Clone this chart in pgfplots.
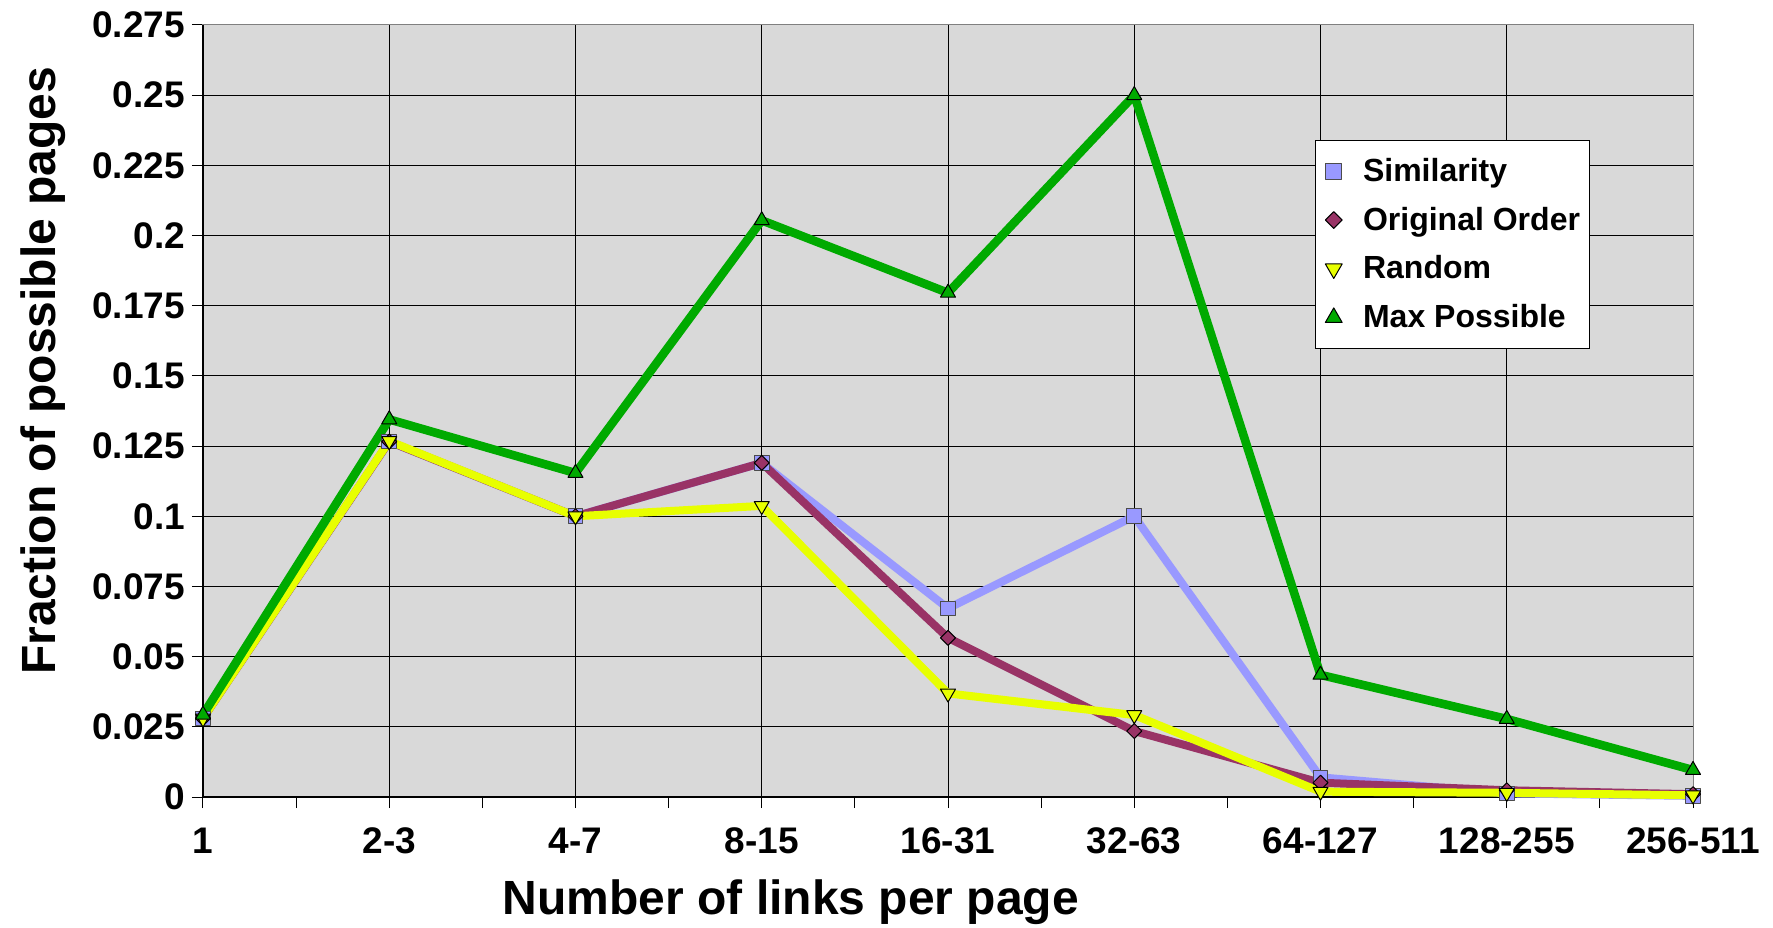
\documentclass[border=0pt]{standalone}
\usepackage{fontspec}
\setmainfont{Liberation Sans}
\usepackage{pgfplots}
\pgfplotsset{compat=1.18}

\definecolor{simcol}{RGB}{153,153,255}
\definecolor{origcol}{RGB}{153,51,102}
\definecolor{randcol}{RGB}{232,255,0}
\definecolor{maxcol}{RGB}{0,170,0}
\definecolor{plotbg}{RGB}{217,217,217}

\begin{document}
\begin{tikzpicture}
\begin{axis}[
  width=745pt, height=386pt, scale only axis,
  xmin=0, xmax=8, ymin=0, ymax=0.275,
  clip=false,
  axis background/.style={fill=plotbg},
  axis line style={draw=gray, line width=0.5pt},
  xtick={0,1,2,3,4,5,6,7,8},
  xticklabels={1,2-3,4-7,8-15,16-31,32-63,64-127,128-255,256-511},
  minor xtick={0.5,1.5,2.5,3.5,4.5,5.5,6.5,7.5},
  ytick={0,0.025,0.05,0.075,0.1,0.125,0.15,0.175,0.2,0.225,0.25,0.275},
  yticklabels={0,0.025,0.05,0.075,0.1,0.125,0.15,0.175,0.2,0.225,0.25,0.275},
  grid=major,
  major grid style={black, line width=0.5pt},
  tick pos=left, tick align=outside,
  major tick length=5.5pt, minor tick length=5.5pt,
  tick style={black, line width=0.5pt},
  ticklabel style={font=\fontsize{18.5}{21}\selectfont\bfseries},
  xticklabel style={yshift=-6.5pt},
  xlabel={Number of links per page},
  xlabel style={at={(axis description cs:0.3946,0)}, anchor=base, yshift=-58.5pt,
    font=\fontsize{24}{28}\selectfont\bfseries},
  ylabel={Fraction of possible pages},
  ylabel style={at={(axis description cs:0,0.552)}, anchor=base, yshift=73.5pt,
    font=\fontsize{24}{28}\selectfont\bfseries},
  legend style={at={(axis description cs:0.746,0.851)}, anchor=north west,
    draw=black, fill=white, line width=0.5pt,
    font=\fontsize{16}{19}\selectfont\bfseries,
    row sep=7.3pt, inner xsep=2.5pt, inner ysep=6.8pt},
  legend cell align=left,
  legend image code/.code={%
    \draw[#1, every mark/.append style={scale=1.12}] plot coordinates {(0pt,0pt)};
    \path (-4.7pt,0pt) (10.5pt,0pt);},
]
% plain black axis lines on the left and bottom
\draw[black, line width=0.6pt] (rel axis cs:0,1) -- (rel axis cs:0,0) -- (rel axis cs:1,0);

\addplot[color=simcol, line width=4pt, line join=round,
  mark=square*, mark size=3.67pt,
  mark options={fill=simcol, draw=black!70, line width=0.5pt}]
  coordinates {(0,0.028) (1,0.1266) (2,0.100) (3,0.119) (4,0.0672) (5,0.100) (6,0.0070) (7,0.0013) (8,0.0004)};
\addlegendentry{Similarity}

\addplot[color=origcol, line width=4pt, line join=round,
  mark=square*, mark size=2.65pt,
  mark options={rotate=45, fill=origcol, draw=black, line width=0.5pt}]
  coordinates {(0,0.028) (1,0.1266) (2,0.100) (3,0.119) (4,0.0567) (5,0.0235) (6,0.0051) (7,0.0024) (8,0.0010)};
\addlegendentry{Original Order}

\addplot[color=randcol, line width=4pt, line join=round,
  mark=triangle*, mark size=4.33pt,
  mark options={rotate=180, fill=randcol, draw=black, line width=0.5pt}]
  coordinates {(0,0.028) (1,0.1268) (2,0.100) (3,0.1037) (4,0.0369) (5,0.0292) (6,0.0019) (7,0.0015) (8,0.0006)};
\addlegendentry{Random}

\addplot[color=maxcol, line width=4.3pt, line join=round,
  mark=triangle*, mark size=4.33pt,
  mark options={fill=maxcol, draw=black, line width=0.5pt}]
  coordinates {(0,0.0293) (1,0.1345) (2,0.1154) (3,0.2054) (4,0.1796) (5,0.250) (6,0.0435) (7,0.0278) (8,0.0096)};
\addlegendentry{Max Possible}
\end{axis}
\pgfresetboundingbox
\path ([shift={(-101.5pt,-65pt)}]current axis.south west) rectangle ([shift={(40pt,12.5pt)}]current axis.north east);
\end{tikzpicture}
\end{document}
